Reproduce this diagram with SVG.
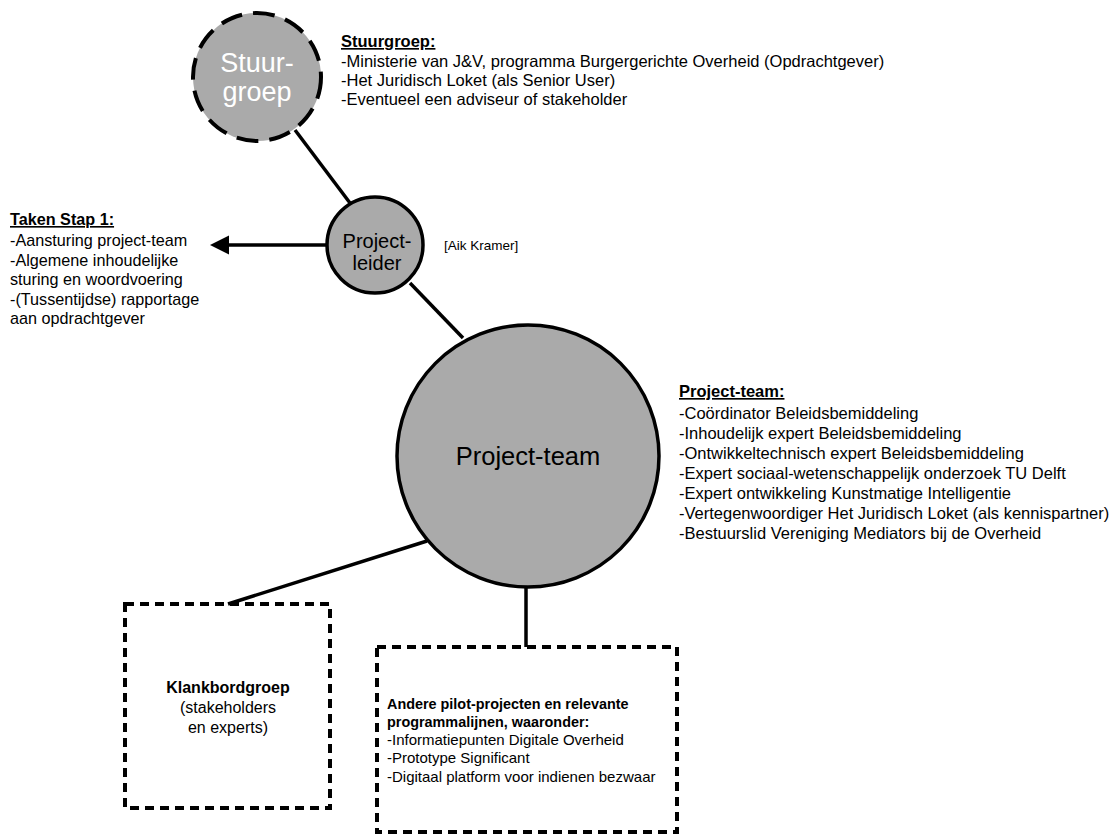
<svg xmlns="http://www.w3.org/2000/svg" width="1117" height="834" viewBox="0 0 1117 834">
<style>
text{font-family:"Liberation Sans",Arial,Helvetica,sans-serif;fill:#000}
.node{fill:#aaaaaa;stroke:#000;stroke-width:3.5}
.dash{stroke-width:4;stroke-dasharray:22 11}
.box{fill:none;stroke:#000;stroke-width:4;stroke-dasharray:9 6}
.conn{stroke:#000;stroke-width:3.5;fill:none}
.lst{font-size:16.5px}
.hd{font-weight:bold;text-decoration:underline}
.c{text-anchor:middle}
</style>
<g id="connectors">
<line class="conn" x1="295" y1="130" x2="350" y2="203"/>
<line class="conn" x1="410" y1="283" x2="463" y2="338"/>
<line class="conn" x1="326" y1="245" x2="224" y2="245"/>
<path d="M210,245 L229,235.5 L229,254.5 Z" fill="#000"/>
<line class="conn" x1="427" y1="541" x2="228" y2="604"/>
<line class="conn" x1="526" y1="586" x2="526" y2="647"/>
</g>
<g id="stuurgroep">
<circle class="node dash" cx="257" cy="77" r="64"/>
<text class="c" x="257" y="72" font-size="27" style="fill:#fff">Stuur-</text>
<text class="c" x="257" y="101" font-size="27" style="fill:#fff">groep</text>
</g>
<g id="stuurgroep-info" class="lst">
<text class="hd" x="341" y="47">Stuurgroep:</text>
<text x="341" y="67">-Ministerie van J&amp;V, programma Burgergerichte Overheid (Opdrachtgever)</text>
<text x="341" y="86">-Het Juridisch Loket (als Senior User)</text>
<text x="341" y="105">-Eventueel een adviseur of stakeholder</text>
</g>
<g id="projectleider">
<circle class="node" cx="375" cy="245" r="48"/>
<text class="c" x="377" y="248" font-size="20">Project-</text>
<text class="c" x="377" y="270" font-size="20">leider</text>
<text x="444" y="250" font-size="13.5">[Aik Kramer]</text>
</g>
<g id="taken" style="font-size:16.2px">
<text class="hd" x="10" y="225">Taken Stap 1:</text>
<text x="10" y="246">-Aansturing project-team</text>
<text x="10" y="266">-Algemene inhoudelijke</text>
<text x="10" y="285">sturing en woordvoering</text>
<text x="10" y="305">-(Tussentijdse) rapportage</text>
<text x="10" y="324">aan opdrachtgever</text>
</g>
<g id="projectteam">
<circle class="node" cx="528" cy="456" r="131"/>
<text class="c" x="528" y="465" font-size="25.5">Project-team</text>
</g>
<g id="projectteam-info" class="lst">
<text class="hd" x="679" y="397">Project-team:</text>
<text x="679" y="419">-Coördinator Beleidsbemiddeling</text>
<text x="679" y="439">-Inhoudelijk expert Beleidsbemiddeling</text>
<text x="679" y="459">-Ontwikkeltechnisch expert Beleidsbemiddeling</text>
<text x="679" y="479">-Expert sociaal-wetenschappelijk onderzoek TU Delft</text>
<text x="679" y="499">-Expert ontwikkeling Kunstmatige Intelligentie</text>
<text x="679" y="519">-Vertegenwoordiger Het Juridisch Loket (als kennispartner)</text>
<text x="679" y="539">-Bestuurslid Vereniging Mediators bij de Overheid</text>
</g>
<g id="klankbordgroep">
<rect class="box" x="125" y="604" width="205" height="204"/>
<text class="c" x="228" y="693" font-size="16" font-weight="bold">Klankbordgroep</text>
<text class="c" x="228" y="713" font-size="16">(stakeholders</text>
<text class="c" x="228" y="733" font-size="16">en experts)</text>
</g>
<g id="andere">
<rect class="box" x="377" y="647" width="300" height="185"/>
<text x="387" y="709" font-size="14.4" font-weight="bold">Andere pilot-projecten en relevante</text>
<text x="387" y="727" font-size="14.4" font-weight="bold">programmalijnen, waaronder:</text>
<text x="387" y="745" font-size="15">-Informatiepunten Digitale Overheid</text>
<text x="387" y="763" font-size="15">-Prototype Significant</text>
<text x="387" y="782" font-size="15">-Digitaal platform voor indienen bezwaar</text>
</g>
</svg>
